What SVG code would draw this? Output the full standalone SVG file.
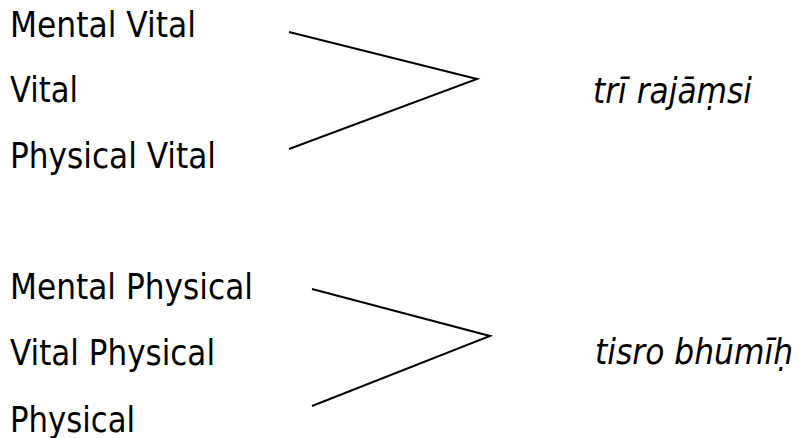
<svg xmlns="http://www.w3.org/2000/svg" width="800" height="438" viewBox="0 0 800 438">
<style>
text{font-family:"DejaVu Sans","Verdana",sans-serif;font-size:36px;fill:#000}
.it{font-style:italic}
.ln{fill:none;stroke:#000;stroke-width:2}
</style>
<rect width="800" height="438" fill="#fff"/>
<g id="n-mental-vital"><text x="10" y="37" textLength="186" lengthAdjust="spacingAndGlyphs">Mental Vital</text></g>
<g id="n-vital"><text x="10" y="102" textLength="68" lengthAdjust="spacingAndGlyphs">Vital</text></g>
<g id="n-physical-vital"><text x="10" y="168" textLength="206" lengthAdjust="spacingAndGlyphs">Physical Vital</text></g>
<g id="n-tri"><text class="it" x="593" y="103" textLength="159" lengthAdjust="spacingAndGlyphs">trī rajāṃsi</text></g>
<g id="n-mental-physical"><text x="10" y="299" textLength="243" lengthAdjust="spacingAndGlyphs">Mental Physical</text></g>
<g id="n-vital-physical"><text x="10" y="365" textLength="205" lengthAdjust="spacingAndGlyphs">Vital Physical</text></g>
<g id="n-physical"><text x="10" y="432" textLength="125" lengthAdjust="spacingAndGlyphs">Physical</text></g>
<g id="n-tisro"><text class="it" x="595" y="364" textLength="198" lengthAdjust="spacingAndGlyphs">tisro bhūmīḥ</text></g>
<g id="connectors">
<polyline class="ln" points="289,32 477,79 289,149"/>
<polyline class="ln" points="312,289 490,336 312,406"/>
</g>
</svg>
